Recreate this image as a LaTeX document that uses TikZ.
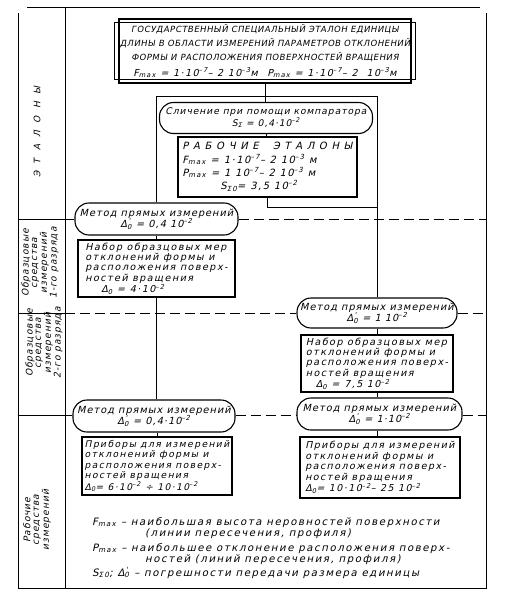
\documentclass[tikz,border=0pt]{standalone}
\usepackage{fontspec}
\setmainfont{DejaVu Sans}
\newfontfamily\hw{DejaVu Sans}[FakeSlant=0.22,LetterSpace=15]
\newfontfamily\hws{DejaVu Sans}[FakeSlant=0.22,LetterSpace=10]
\newfontfamily\hwc{DejaVu Sans}[FakeSlant=0.18,LetterSpace=6]
\newcommand\xsub[1]{\textsubscript{#1}}
\newcommand\xsup[1]{\textsuperscript{#1}}
\newcommand\dpr{Δ\rlap{\xsup{\,'}}\xsub{0}}
\tikzset{
  frame/.style={line width=0.8pt},
  conn/.style={line width=0.7pt},
  dsh/.style={line width=0.9pt, dash pattern=on 10pt off 5pt},
  box/.style={draw, line width=1.5pt, inner sep=2pt, align=left,
    font=\hw\fontsize{9.6}{10.4}\selectfont},
  stad/.style={draw, line width=1.1pt, rounded corners=14pt, inner sep=1pt, align=center,
    font=\hws\fontsize{9.8}{11.5}\selectfont},
  side/.style={rotate=90, align=center, font=\hws\fontsize{9.2}{8.4}\selectfont},
  legend/.style={anchor=base west, inner sep=0pt, font=\hw\fontsize{10.2}{11}\selectfont}
}
\begin{document}
\begin{tikzpicture}[x=1pt,y=-1pt]
\useasboundingbox (0,0) rectangle (508,605);
% frame
\draw[frame] (27,7) -- (480,7);
\draw[frame] (18,13) -- (18,588) -- (486,588) -- (486,13);
\draw[frame] (65,7) -- (65,588);
\draw[frame] (18,219) -- (65,219);
\draw[frame] (18,313) -- (65,313);
\draw[frame] (18,415) -- (65,415);
% side labels
\node[side, font=\hws\fontsize{9}{9}\selectfont] (s1) at (37,132) {Э\ \ Т\ \ А\ \ Л\ \ О\ \ Н\ \ Ы};
\node[side] (s2) at (40,263) {Образцовые\\средства\\измерений\\1-го разряда};
\node[side] (s3) at (44,343) {Образцовые\\средства\\измерений\\2-го разряда};
\node[side] (s4) at (37,520) {Рабочие\\средства\\измерений};
% top box
\node[draw, line width=1.8pt, minimum width=292pt, minimum height=64pt, inner sep=0pt, align=center,
  font=\hwc\fontsize{8.5}{14}\selectfont] (top) at (265,51)
  {ГОСУДАРСТВЕННЫЙ СПЕЦИАЛЬНЫЙ ЭТАЛОН ЕДИНИЦЫ\\
   ДЛИНЫ В ОБЛАСТИ ИЗМЕРЕНИЙ ПАРАМЕТРОВ ОТКЛОНЕНИЙ\\
   ФОРМЫ И РАСПОЛОЖЕНИЯ ПОВЕРХНОСТЕЙ ВРАЩЕНИЯ\\[2pt]
   {\hw\fontsize{9.6}{10}\selectfont F\xsub{max} = 1·10\xsup{–7}– 2 10\xsup{–3}м\quad P\xsub{max} = 1·10\xsup{–7}– 2 \ 10\xsup{–3}м}};
\draw[line width=1pt] ([shift={(-4pt,-4pt)}]top.north west) rectangle ([shift={(4pt,4pt)}]top.south east);
% comparator
\node[stad, minimum width=213pt, minimum height=31pt, font=\hws\fontsize{9.2}{11.5}\selectfont] (sl) at (266,118)
  {Сличение при помощи компаратора\\S\xsub{Σ} = 0,4·10\xsup{–2}};
% working standards
\node[box, minimum width=179pt, minimum height=60pt,
  font=\hw\fontsize{10}{13.2}\selectfont] (rab) at (267.5,167)
  {Р А Б О Ч И Е \ \ Э Т А Л О Н Ы\\
   F\xsub{max} = 1·10\xsup{–7}– 2 10\xsup{–3} м\\
   P\xsub{max} = 1 10\xsup{–7}– 2 10\xsup{–3} м\\
   \hspace*{38pt}S\xsub{Σ0}= 3,5 10\xsup{–2}};
% left column
\node[stad, minimum width=163pt, minimum height=32pt] (m1) at (156.5,219)
  {Метод прямых измерений\\\dpr\ = 0,4 10\xsup{–2}};
\node[box, minimum width=157pt, minimum height=57pt] (n1) at (156.5,268.5)
  {Набор образцовых мер\\отклонений формы и\\расположения поверх-\\ностей вращения\\
   \hspace*{16pt}Δ\xsub{0} = 4·10\xsup{–2}};
\node[stad, minimum width=162pt, minimum height=32pt] (m3l) at (154,416)
  {Метод прямых измерений\\\dpr\ = 0,4·10\xsup{–2}};
\node[box, minimum width=150pt, minimum height=58pt, font=\hw\fontsize{9.2}{10.4}\selectfont] (p1) at (157,466)
  {Приборы для измерений\\отклонений формы и\\расположения поверх-\\ностей вращения\\
   Δ\xsub{0}= 6·10\xsup{–2} ÷ 10·10\xsup{–2}};
% right column
\node[stad, minimum width=160pt, minimum height=30pt] (m2r) at (377,313)
  {Метод прямых измерений\\\dpr\ = 1 10\xsup{–2}};
\node[box, minimum width=152pt, minimum height=57pt] (n2) at (377,363.5)
  {Набор образцовых мер\\отклонений формы и\\расположения поверх-\\ностей вращения\\
   \hspace*{10pt}Δ\xsub{0} = 7,5 10\xsup{–2}};
\node[stad, minimum width=165pt, minimum height=32pt] (m3r) at (379.5,414)
  {Метод прямых измерений\\\dpr\ = 1·10\xsup{–2}};
\node[box, minimum width=160pt, minimum height=61pt, font=\hw\fontsize{9.5}{10.6}\selectfont] (p2) at (380,467.5)
  {Приборы для измерений\\отклонений формы и\\расположения поверх-\\ностей вращения\\
   Δ\xsub{0}= 10·10\xsup{–2}– 25 10\xsup{–2}};
% connectors
\coordinate (rt) at (265,96);
\coordinate (jy) at (0,207);
\draw[conn] (top.south) -- (rt);
\draw[conn] (m1.north) -- (m1.north |- rt) -- (m2r.north |- rt) -- (m2r.north);
\draw[conn] (rt) -- (sl.north -| rt);
\draw[conn] (sl.south) -- (rab.north -| sl.south);
\draw[conn] (rab.south) |- (m2r.north |- jy);
\draw[conn] (m1.south) -- (n1.north -| m1.south);
\draw[conn] (n1.south) -- (m3l.north -| n1.south);
\draw[conn] (m3l.south -| p1.north) -- (p1.north);
\draw[conn] (m2r.south) -- (n2.north);
\draw[conn] (n2.south) -- (m3r.north -| n2.south);
\draw[conn] (m3r.south -| n2.south) -- (p2.north -| n2.south);
% dashed level lines
\draw[dsh] (65,219) -- (m1.west);
\draw[dsh] (m1.east) -- (486,219);
\draw[dsh] (65,313) -- (m2r.west);
\draw[dsh] (m2r.east) -- (486,313);
\draw[dsh] (65,415) -- (m3l.west |- 0,415);
\draw[dsh] (m3l.east |- 0,415) -- (m3r.west |- 0,415);
\draw[dsh] (m3r.east |- 0,415) -- (486,415);
% legend
\node[legend] (lg1) at (92,525) {F\xsub{max} – наибольшая высота неровностей поверхности};
\node[legend] (lg2) at (145,536) {(линии пересечения, профиля)};
\node[legend] (lg3) at (92,551) {P\xsub{max} – наибольшее отклонение расположения поверх-};
\node[legend] (lg4) at (145,562) {ностей (линий пересечения, профиля)};
\node[legend] (lg5) at (92,576) {S\xsub{Σ0}; \dpr\ – погрешности передачи размера единицы};
\end{tikzpicture}
\end{document}
